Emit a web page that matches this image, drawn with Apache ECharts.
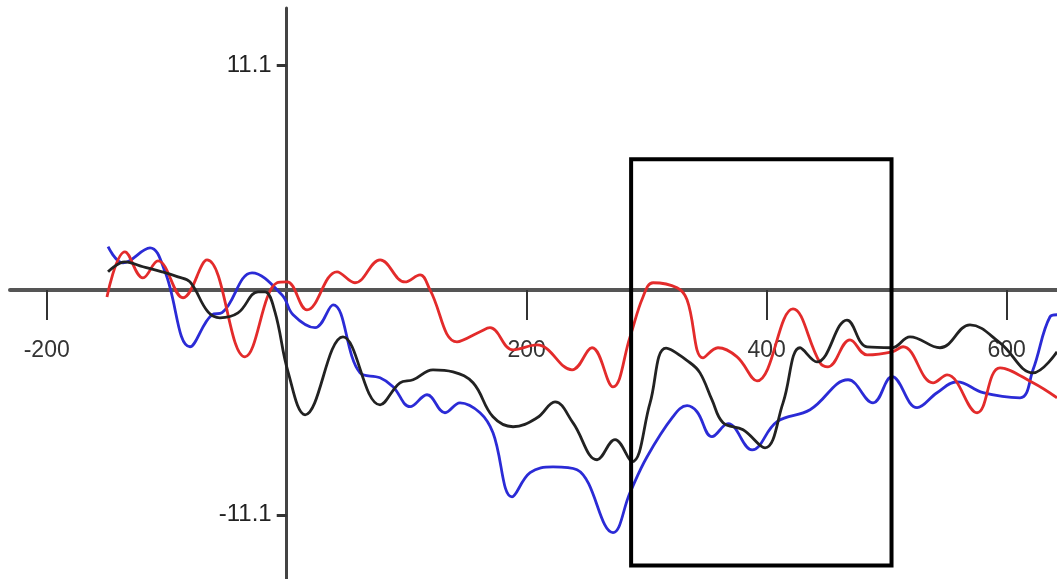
<!DOCTYPE html>
<html>
<head>
<meta charset="utf-8">
<script src="https://cdn.jsdelivr.net/npm/echarts@6/dist/echarts.min.js"></script>
<style>
  html, body { margin: 0; padding: 0; background: #fff; }
  #chart { width: 1057px; height: 579px; }
</style>
</head>
<body>
<div id="chart"></div>
<script>
// Time axis (ms) and amplitude axis (µV) tick labels
const timeTicks = [-200, 200, 400, 600];
const ampTicks = [-11.1, 11.1];

// Analysis window (ms) and its vertical extent (µV)
const windowMs = [287, 504];
const windowAmp = [-13.6, 6.46];

// Waveforms: [time ms, amplitude µV]
const redWave = [
  [-149.8, -0.34], [-134.8, 1.89], [-119.8, 0.60], [-107.3, 1.44], [-86.4, -0.38],
  [-66.4, 1.49], [-34.8, -3.30], [-8.1, 0.36], [0.3, 0.40], [16.9, -0.98],
  [41.9, 0.90], [56.9, 0.36], [77.8, 1.49], [98.6, 0.40], [111.1, 0.75],
  [119.4, 0.01], [141.9, -2.56], [161.1, -2.06], [169.4, -1.86], [188.6, -2.95],
  [208.6, -2.71], [237.8, -3.94], [254.4, -2.85], [271.9, -4.78], [286.1, -2.31],
  [296.9, -0.34], [305.3, 0.36], [325.3, 0.11], [333.6, -0.48], [346.9, -3.35],
  [359.4, -2.85], [375.3, -3.30], [391.9, -4.49], [421.9, -0.93], [444.4, -3.59],
  [451.1, -3.79], [469.4, -2.46], [483.6, -3.20], [504.4, -3.05], [513.6, -2.80],
  [538.6, -4.58], [550.3, -4.19], [575.3, -6.06], [594.4, -3.84], [621.9, -4.58],
  [641.9, -5.32]
];

const blueWave = [
  [-148.9, 2.14], [-136.4, 1.34], [-113.9, 2.08], [-101.4, 0.90], [-80.6, -2.80],
  [-62.3, -1.22], [-53.9, -1.12], [-28.9, 0.85], [-3.9, -0.24], [5.3, -1.22],
  [23.6, -1.86], [38.6, -0.73], [61.1, -4.09], [77.8, -4.33], [88.6, -4.77],
  [102.8, -5.76], [116.9, -5.17], [131.9, -6.06], [144.4, -5.57], [161.1, -6.06],
  [171.9, -7.05], [187.8, -10.21], [202.8, -9.02], [221.9, -8.73], [241.9, -8.87],
  [271.9, -11.98], [286.1, -10.00], [300.3, -8.23], [321.9, -6.25], [333.6, -5.71],
  [341.9, -6.01], [354.4, -7.24], [367.8, -6.60], [387.8, -7.89], [408.6, -6.50],
  [436.1, -5.91], [467.8, -4.43], [488.6, -5.57], [504.4, -4.28], [525.3, -5.81],
  [541.9, -5.07], [558.6, -4.53], [580.3, -5.07], [611.1, -5.32], [621.9, -3.94],
  [636.1, -1.32], [641.9, -1.22]
];

const blackWave = [
  [-148.9, 0.90], [-134.8, 1.39], [-119.8, 1.15], [-103.9, 0.90], [-90.6, 0.65],
  [-80.6, 0.40], [-65.6, -1.08], [-55.6, -1.37], [-40.6, -1.13], [-23.9, -0.09],
  [-18.1, -0.09], [-9.8, -1.08], [1.1, -4.04], [15.3, -6.16], [46.9, -2.31],
  [77.8, -5.67], [94.4, -4.58], [105.3, -4.43], [121.9, -3.94], [138.6, -4.04],
  [155.3, -4.58], [171.9, -6.26], [188.6, -6.75], [208.6, -6.31], [223.6, -5.52],
  [238.6, -6.56], [258.6, -8.38], [273.6, -7.39], [287.8, -8.48], [302.8, -5.57],
  [316.1, -2.87], [336.1, -3.59], [344.4, -4.09], [354.4, -5.42], [363.6, -6.55],
  [380.3, -6.90], [398.6, -7.79], [413.6, -5.57], [427.8, -2.85], [441.9, -3.55],
  [466.9, -1.48], [483.6, -2.81], [504.4, -2.85], [519.4, -2.31], [544.4, -2.85],
  [569.4, -1.72], [594.4, -2.61], [621.9, -4.09], [641.9, -3.05]
];

const labelFont = '"Liberation Sans Narrow", "Arial Narrow", "Liberation Sans", sans-serif';

// Plot frame and axis ranges
const gridBox = { left: 10, right: 0, top: 8, bottom: 0 };
const timeRange = [-230.6, 641.9];
const ampRange = [-14.27, 13.93];

function wave(name, data, color) {
  return {
    name: name,
    type: 'line',
    data: data,
    smooth: 0.4,
    showSymbol: false,
    lineStyle: { color: color, width: 2.8 },
    z: 3
  };
}

const dom = document.getElementById('chart');
const chart = echarts.init(dom, null, { renderer: 'canvas' });

// Axes cross at (0, 0): shift each axis from the grid edge to the zero line
const plotW = dom.clientWidth - gridBox.left - gridBox.right;
const plotH = dom.clientHeight - gridBox.top - gridBox.bottom;
const yAxisShift = -plotW * (0 - timeRange[0]) / (timeRange[1] - timeRange[0]);
const xAxisShift = -plotH * (0 - ampRange[0]) / (ampRange[1] - ampRange[0]);

const blueSeries = wave('blue', blueWave, '#2b2bd6');
blueSeries.markArea = {
  silent: true,
  z: 5,
  itemStyle: { color: 'rgba(0,0,0,0)', borderColor: '#000', borderWidth: 4 },
  data: [[{ coord: [windowMs[0], windowAmp[1]] }, { coord: [windowMs[1], windowAmp[0]] }]]
};

chart.setOption({
  animation: false,
  backgroundColor: '#ffffff',
  grid: Object.assign({ containLabel: false, outerBoundsMode: 'none' }, gridBox),
  xAxis: {
    type: 'value',
    position: 'bottom',
    offset: xAxisShift,
    min: timeRange[0],
    max: timeRange[1],
    axisLine: { onZero: false, lineStyle: { color: '#555', width: 4 } },
    axisTick: { show: true, inside: false, length: 30, customValues: timeTicks, lineStyle: { color: '#333', width: 2 } },
    axisLabel: {
      customValues: timeTicks,
      margin: 49,
      fontSize: 23,
      fontFamily: labelFont,
      color: '#333'
    },
    splitLine: { show: false }
  },
  yAxis: {
    type: 'value',
    position: 'left',
    offset: yAxisShift,
    min: ampRange[0],
    max: ampRange[1],
    axisLine: { onZero: false, lineStyle: { color: '#444', width: 3 } },
    axisTick: { show: true, inside: false, length: 10, customValues: ampTicks, lineStyle: { color: '#333', width: 3 } },
    axisLabel: {
      customValues: ampTicks,
      margin: 15,
      fontSize: 24,
      fontFamily: labelFont,
      color: '#222',
      padding: [6, 0, 0, 0],
      formatter: function (v) { return v.toFixed(1); }
    },
    splitLine: { show: false }
  },
  series: [
    blueSeries,
    wave('red', redWave, '#e32b2b'),
    wave('black', blackWave, '#222222')
  ]
});
</script>
</body>
</html>
